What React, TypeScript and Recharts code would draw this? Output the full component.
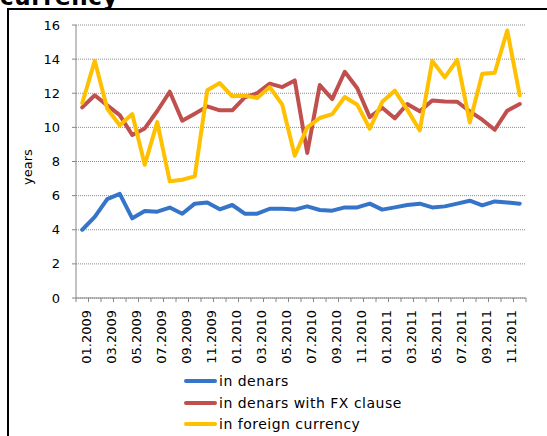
import React from 'react';
import { LineChart, Line, XAxis, YAxis, CartesianGrid } from 'recharts';

const months = [
  '01.2009', '02.2009', '03.2009', '04.2009', '05.2009', '06.2009', '07.2009', '08.2009', '09.2009', '10.2009', '11.2009', '12.2009',
  '01.2010', '02.2010', '03.2010', '04.2010', '05.2010', '06.2010', '07.2010', '08.2010', '09.2010', '10.2010', '11.2010', '12.2010',
  '01.2011', '02.2011', '03.2011', '04.2011', '05.2011', '06.2011', '07.2011', '08.2011', '09.2011', '10.2011', '11.2011', '12.2011',
];

const inDenars = [4.0, 4.75, 5.8, 6.1, 4.67, 5.1, 5.06, 5.3, 4.94, 5.53, 5.6, 5.2, 5.45, 4.94, 4.94, 5.23, 5.23, 5.18, 5.37, 5.16, 5.12, 5.31, 5.31, 5.53, 5.18, 5.31, 5.45, 5.53, 5.31, 5.37, 5.53, 5.7, 5.43, 5.66, 5.6, 5.53];
const inDenarsFx = [11.17, 11.88, 11.29, 10.72, 9.55, 9.94, 10.96, 12.09, 10.39, 10.8, 11.23, 11.0, 11.0, 11.76, 12.01, 12.56, 12.36, 12.75, 8.5, 12.48, 11.66, 13.26, 12.29, 10.6, 11.15, 10.53, 11.37, 10.94, 11.58, 11.52, 11.5, 10.94, 10.45, 9.86, 10.98, 11.37];
const inForeign = [11.43, 13.9, 11.09, 10.12, 10.78, 7.81, 10.31, 6.84, 6.93, 7.13, 12.17, 12.6, 11.82, 11.86, 11.72, 12.36, 11.33, 8.34, 10.0, 10.55, 10.78, 11.78, 11.33, 9.92, 11.5, 12.15, 11.04, 9.82, 13.9, 12.93, 13.96, 10.29, 13.14, 13.2, 15.68, 11.88];

const yTicks = [0, 2, 4, 6, 8, 10, 12, 14, 16];

const seriesNames = ['in denars', 'in denars with FX clause', 'in foreign currency'];
const colors = ['#3574C8', '#C0504D', '#FFC000'];

const data = months.map((m, i) => ({
  pos: i + 0.5,
  month: m,
  denars: inDenars[i],
  fx: inDenarsFx[i],
  foreign: inForeign[i],
}));

const boundaryTicks = months.map((_, i) => i).concat([months.length]);
const labelTicks = months.map((_, i) => i + 0.5).filter((_, i) => i % 2 === 0);

const FONT = '"DejaVu Sans", Verdana, sans-serif';

const MonthTick = (props: any) => {
  const { x, y, payload } = props;
  const label = months[Math.floor(payload.value)];
  return (
    <g transform={`translate(${x},${y})`}>
      <text transform="rotate(-90)" textAnchor="end" dy={8.7} fontSize={13} fontFamily={FONT} fill="#000">
        {label}
      </text>
    </g>
  );
};

export default function App() {
  return (
    <div style={{ position: 'fixed', left: 0, top: 0, width: 547, height: 436, background: '#fff', overflow: 'hidden', fontFamily: FONT }}>
      <div style={{ position: 'absolute', left: 0, top: -14, fontSize: 23, fontWeight: 'bold', lineHeight: '23px', letterSpacing: 0.6, color: '#000', whiteSpace: 'nowrap' }}>
        currency
      </div>
      <div style={{ position: 'absolute', left: 7, top: 8, width: 600, height: 500, borderLeft: '2px solid #000', borderTop: '2px solid #000' }} />
      <div style={{ position: 'absolute', left: 0, top: 0 }}>
        <LineChart width={547} height={436} data={data} margin={{ top: 25, right: 21, bottom: 67, left: 0 }}>
          <CartesianGrid vertical={false} stroke="#8c8c8c" strokeDasharray="1 1" />
          <XAxis
            dataKey="pos"
            type="number"
            domain={[0, 36]}
            ticks={boundaryTicks}
            interval={0}
            tickFormatter={() => ''}
            tickSize={4}
            height={1}
            stroke="#868686"
            allowDataOverflow
          />
          <XAxis
            xAxisId="c"
            dataKey="pos"
            type="number"
            domain={[0, 36]}
            ticks={labelTicks}
            interval={0}
            tick={<MonthTick />}
            tickLine={false}
            axisLine={false}
            tickSize={0}
            tickMargin={11}
            height={70}
            allowDataOverflow
          />
          <YAxis
            domain={[0, 16]}
            ticks={yTicks}
            interval={0}
            width={76}
            tickSize={4}
            tickMargin={12}
            stroke="#868686"
            tick={{ fill: '#000', fontSize: 13, fontFamily: FONT }}
          />
          <Line dataKey="denars" stroke={colors[0]} strokeWidth={4} dot={false} isAnimationActive={false} strokeLinejoin="round" strokeLinecap="round" />
          <Line dataKey="fx" stroke={colors[1]} strokeWidth={4} dot={false} isAnimationActive={false} strokeLinejoin="round" strokeLinecap="round" />
          <Line dataKey="foreign" stroke={colors[2]} strokeWidth={4} dot={false} isAnimationActive={false} strokeLinejoin="round" strokeLinecap="round" />
        </LineChart>
      </div>
      <div style={{ position: 'absolute', left: 27, top: 167, transform: 'translate(-50%, -50%) rotate(-90deg)', fontSize: 13, color: '#000', whiteSpace: 'nowrap' }}>
        years
      </div>
      {seriesNames.map((name, i) => (
        <div key={name} style={{ position: 'absolute', left: 184, top: 381 + i * 21.5 - 9, height: 18, display: 'flex', alignItems: 'center', fontSize: 14, letterSpacing: 0.5, color: '#000', whiteSpace: 'nowrap' }}>
          <span style={{ display: 'inline-block', width: 33, height: 4, borderRadius: 2, background: colors[i], marginRight: 2 }} />
          <span>{name}</span>
        </div>
      ))}
    </div>
  );
}
